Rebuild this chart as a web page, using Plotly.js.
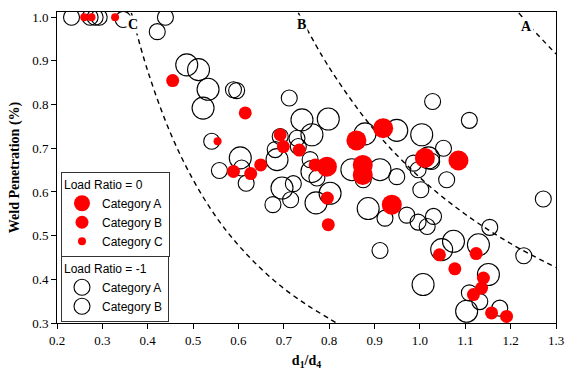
<!DOCTYPE html>
<html>
<head>
<meta charset="utf-8">
<script src="https://cdn.plot.ly/plotly-3.0.1.min.js"></script>
<style>html,body{margin:0;padding:0;background:#fff;}#chart{width:576px;height:384px;}</style>
</head>
<body>
<div id="chart"></div>
<script>
// Load Ratio = 0 (filled red)
const redA_x = [0.860, 0.795, 0.874, 0.874, 0.919, 1.011, 1.085, 0.938];
const redA_y = [0.718, 0.658, 0.662, 0.639, 0.746, 0.678, 0.672, 0.571];
const redB_x = [0.455, 0.615, 0.692, 0.699, 0.734, 0.769, 0.796, 0.798, 0.649, 0.627, 0.589, 1.043, 1.124, 1.077, 1.140, 1.136, 1.118, 1.158, 1.191];
const redB_y = [0.855, 0.781, 0.731, 0.704, 0.696, 0.662, 0.586, 0.525, 0.662, 0.642, 0.647, 0.456, 0.459, 0.424, 0.403, 0.380, 0.365, 0.323, 0.315];
const redC_x = [0.260, 0.276, 0.328, 0.554];
const redC_y = [1.000, 1.000, 1.000, 0.716];
// Load Ratio = -1 (open circles)
const openA_x = [0.486, 0.512, 0.533, 0.522, 0.740, 0.798, 0.604, 0.685, 0.762, 0.762, 0.850, 0.912, 0.696, 0.771, 0.802, 0.886, 0.879, 0.949, 1.004, 1.019, 1.074, 1.048, 1.129, 1.007, 1.151, 1.103];
const openA_y = [0.891, 0.880, 0.835, 0.792, 0.765, 0.767, 0.678, 0.674, 0.731, 0.647, 0.651, 0.651, 0.609, 0.575, 0.597, 0.562, 0.733, 0.741, 0.731, 0.678, 0.487, 0.468, 0.479, 0.388, 0.411, 0.327];
const openB_x = [0.232, 0.273, 0.284, 0.293, 0.346, 0.439, 0.421, 0.589, 0.596, 0.712, 0.541, 0.558, 0.607, 0.617, 0.681, 0.692, 0.729, 0.732, 0.773, 0.758, 0.875, 0.721, 0.676, 0.715, 1.028, 1.109, 1.052, 0.986, 0.996, 1.026, 1.059, 1.002, 0.949, 0.923, 0.971, 0.996, 1.030, 1.016, 1.154, 1.272, 0.912, 1.229, 1.109, 1.132, 1.176];
const openB_y = [1.000, 1.000, 1.000, 1.000, 0.995, 1.000, 0.967, 0.834, 0.832, 0.815, 0.716, 0.649, 0.655, 0.620, 0.697, 0.727, 0.723, 0.704, 0.632, 0.674, 0.628, 0.619, 0.571, 0.582, 0.807, 0.764, 0.700, 0.666, 0.651, 0.670, 0.628, 0.605, 0.635, 0.540, 0.547, 0.531, 0.544, 0.521, 0.519, 0.584, 0.466, 0.454, 0.369, 0.349, 0.334];
// Dashed boundary curves
const curveC_x = [0.364, 0.40, 0.45, 0.50, 0.55, 0.60, 0.65, 0.70, 0.75, 0.80, 0.816];
const curveC_y = [1.01, 0.877, 0.735, 0.628, 0.544, 0.478, 0.424, 0.379, 0.342, 0.310, 0.300];
const curveB_x = [0.732, 0.80, 0.90, 1.00, 1.10, 1.20, 1.30];
const curveB_y = [1.01, 0.885, 0.741, 0.633, 0.549, 0.482, 0.427];
const curveA_x = [1.218, 1.25, 1.30];
const curveA_y = [1.01, 0.971, 0.916];
const curveLabels = ['C', 'B', 'A'];
const curveLabel_x = [0.368, 0.738, 1.236];
const curveLabel_y = [0.983, 0.983, 0.978];

const serif = 'Liberation Serif, Times New Roman, serif';
const sans = 'Liberation Sans, Arial, sans-serif';

function curve(x, y) {
  return {x: x, y: y, mode: 'lines', type: 'scatter', showlegend: false, hoverinfo: 'skip',
    line: {color: 'black', width: 1.4, dash: '5px,4px', shape: 'spline'}};
}
const traces = [
  curve(curveC_x, curveC_y), curve(curveB_x, curveB_y), curve(curveA_x, curveA_y),
  {x: openA_x, y: openA_y, mode: 'markers', type: 'scatter', name: 'Category A', legend: 'legend2',
    marker: {symbol: 'circle-open', size: 22, color: 'black', line: {width: 1.1, color: 'black'}}},
  {x: openB_x, y: openB_y, mode: 'markers', type: 'scatter', name: 'Category B', legend: 'legend2',
    marker: {symbol: 'circle-open', size: 16, color: 'black', line: {width: 1.1, color: 'black'}}},
  {x: redA_x, y: redA_y, mode: 'markers', type: 'scatter', name: 'Category A', legend: 'legend',
    marker: {symbol: 'circle', size: 20, color: '#ff0000', line: {width: 0}}},
  {x: redB_x, y: redB_y, mode: 'markers', type: 'scatter', name: 'Category B', legend: 'legend',
    marker: {symbol: 'circle', size: 13, color: '#ff0000', line: {width: 0}}},
  {x: redC_x, y: redC_y, mode: 'markers', type: 'scatter', name: 'Category C', legend: 'legend',
    marker: {symbol: 'circle', size: 8, color: '#ff0000', line: {width: 0}}}
];

const legendBase = {
  xanchor: 'left', yanchor: 'top', x: 0.008, bgcolor: 'white', bordercolor: '#333', borderwidth: 1,
  font: {family: sans, size: 12, color: 'black'}, itemwidth: 30, tracegroupgap: 0
};
const annotations = curveLabels.map((t, i) => ({
  x: curveLabel_x[i], y: curveLabel_y[i], xref: 'x', yref: 'y', text: '<b>' + t + '</b>', showarrow: false,
  font: {family: serif, size: 14, color: 'black'}, bgcolor: 'white', borderpad: 1
}));

const axisBase = {
  showgrid: false, zeroline: false, showline: true, linecolor: 'black', linewidth: 1, mirror: true,
  ticks: 'outside', ticklen: 5, tickcolor: 'black', tickwidth: 1, tickformat: '.1f', dtick: 0.1,
  tickfont: {family: serif, size: 13, color: 'black'}
};
const layout = {
  width: 576, height: 384, paper_bgcolor: 'white', plot_bgcolor: 'white',
  margin: {l: 57, r: 20, t: 12, b: 61},
  xaxis: Object.assign({}, axisBase, {range: [0.2, 1.3], tick0: 0.2,
    title: {text: '<b>d<sub>1</sub>/d<sub>4</sub></b>', font: {family: serif, size: 14, color: 'black'}, standoff: 8}}),
  yaxis: Object.assign({}, axisBase, {range: [0.3, 1.012], tick0: 0.3,
    title: {text: '<b>Weld Penetration (%)</b>', font: {family: serif, size: 14, color: 'black'}}}),
  legend: Object.assign({}, legendBase, {y: 0.485, title: {text: 'Load Ratio = 0', font: {family: sans, size: 12, color: 'black'}}}),
  legend2: Object.assign({}, legendBase, {y: 0.215, title: {text: 'Load Ratio = -1', font: {family: sans, size: 12, color: 'black'}}}),
  annotations: annotations
};
Plotly.newPlot('chart', traces, layout, {displayModeBar: false, staticPlot: true});
</script>
</body>
</html>
